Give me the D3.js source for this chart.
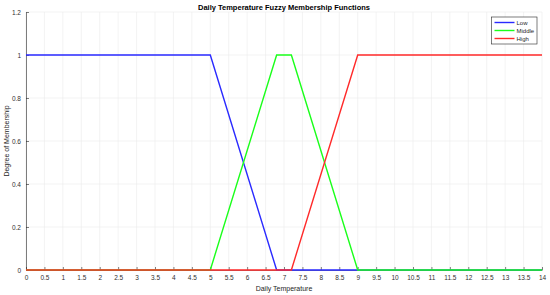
<!DOCTYPE html>
<html>
<head>
<meta charset="utf-8">
<script src="https://cdn.jsdelivr.net/npm/d3@7"></script>
<style>
  body { margin: 0; background: #fff; }
  text { font-family: "Liberation Sans", Arial, sans-serif; }
</style>
</head>
<body>
<svg width="550" height="295"></svg>
<script>
// membership function breakpoints [x, degree]
var lowPts = [[0, 1], [5, 1], [6.8, 0], [14, 0]];
var middlePts = [[0, 0], [5, 0], [6.8, 1], [7.2, 1], [9, 0], [14, 0]];
var highPts = [[0, 0], [7.2, 0], [9, 1], [14, 1]];
var seriesNames = ["Low", "Middle", "High"];
var seriesColors = ["#2a2aff", "#1aff1a", "#ff2a2a"];
var xTicks = d3.range(0, 14.01, 0.5);
var yTicks = [0, 0.2, 0.4, 0.6, 0.8, 1, 1.2];

var svg = d3.select("svg");
var plotL = 26, plotR = 542, plotT = 12, plotB = 270;

var x = d3.scaleLinear().domain([0, 14]).range([plotL, plotR]);
var y = d3.scaleLinear().domain([0, 1.2]).range([plotB, plotT]);

// grid
svg.append("g").selectAll("line").data(xTicks).enter().append("line")
  .attr("x1", d => x(d)).attr("x2", d => x(d))
  .attr("y1", plotT).attr("y2", plotB)
  .attr("stroke", "#ebebeb").attr("stroke-width", 0.6);
svg.append("g").selectAll("line").data(yTicks).enter().append("line")
  .attr("x1", plotL).attr("x2", plotR)
  .attr("y1", d => y(d)).attr("y2", d => y(d))
  .attr("stroke", "#ebebeb").attr("stroke-width", 0.6);

// axes
var xAxis = svg.append("g")
  .attr("transform", "translate(0," + plotB + ")")
  .call(d3.axisBottom(x).tickValues(xTicks).tickSizeInner(-3).tickSizeOuter(0)
    .tickPadding(5).tickFormat(d3.format("~g")));
var yAxis = svg.append("g")
  .attr("transform", "translate(" + plotL + ",0)")
  .call(d3.axisLeft(y).tickValues(yTicks).tickSizeInner(-3).tickSizeOuter(0)
    .tickPadding(5).tickFormat(d3.format("~g")));
[xAxis, yAxis].forEach(function (a) {
  a.select(".domain").attr("stroke", "#262626").attr("stroke-width", 0.6);
  a.selectAll(".tick line").attr("stroke", "#262626").attr("stroke-width", 0.6);
  a.selectAll(".tick text").attr("fill", "#303030").style("font-size", "6.5px")
    .style("font-family", "Liberation Sans, Arial, sans-serif");
});

// series lines
var line = d3.line().x(d => x(d[0])).y(d => y(d[1]));
[lowPts, middlePts, highPts].forEach(function (pts, i) {
  svg.append("path").datum(pts)
    .attr("d", line)
    .attr("fill", "none")
    .attr("stroke", seriesColors[i])
    .attr("stroke-width", 1.4);
});

// titles
svg.append("text").attr("x", (plotL + plotR) / 2).attr("y", 9.5)
  .attr("text-anchor", "middle").style("font-size", "7.5px").style("font-weight", "bold")
  .attr("fill", "#000").text("Daily Temperature Fuzzy Membership Functions");
svg.append("text").attr("x", (plotL + plotR) / 2).attr("y", 291)
  .attr("text-anchor", "middle").style("font-size", "7px")
  .attr("fill", "#262626").text("Daily Temperature");
svg.append("text").attr("transform", "translate(8.5," + ((plotT + plotB) / 2) + ") rotate(-90)")
  .attr("text-anchor", "middle").style("font-size", "7px")
  .attr("fill", "#262626").text("Degree of Membership");

// legend
var lg = svg.append("g").attr("transform", "translate(491.5,17)");
lg.append("rect").attr("width", 45.5).attr("height", 27)
  .attr("fill", "#fff").attr("stroke", "#262626").attr("stroke-width", 0.6);
seriesNames.forEach(function (name, i) {
  var ly = 5.5 + i * 8;
  lg.append("line").attr("x1", 3).attr("x2", 23).attr("y1", ly).attr("y2", ly)
    .attr("stroke", seriesColors[i]).attr("stroke-width", 1.4);
  lg.append("text").attr("x", 25).attr("y", ly + 2.2).style("font-size", "6px")
    .attr("fill", "#262626").text(name);
});
</script>
</body>
</html>
